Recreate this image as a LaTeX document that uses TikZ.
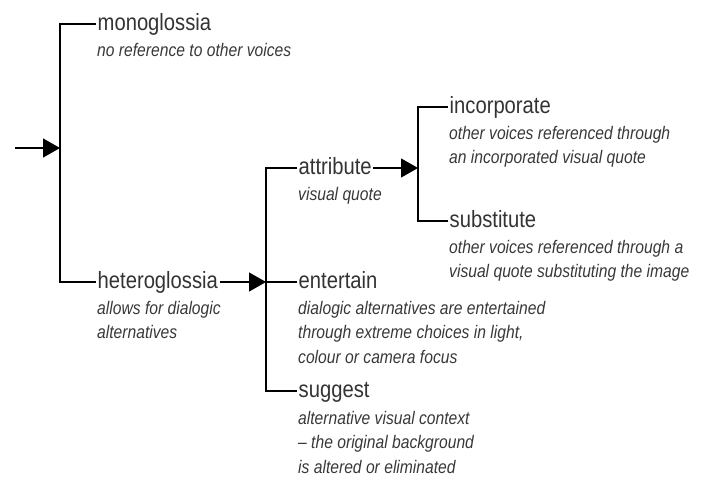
\documentclass[tikz,border=0pt]{standalone}
\usepackage{fontspec}
\setmainfont[FakeStretch=0.86]{Liberation Sans}
\usetikzlibrary{arrows.meta}
\newcommand\sublns[1]{\begin{tabular}[t]{@{}l@{}}#1\end{tabular}}
\begin{document}
\begin{tikzpicture}[x=1pt,y=-1pt,
  ttl/.style={anchor=west, inner xsep=1.5pt, inner ysep=0pt, text height=17pt, text depth=4pt,
    text=black!80, font=\fontsize{23.5}{24}\selectfont},
  sub/.style={anchor=base west, inner sep=0pt, text=black!78,
    font=\itshape\fontsize{18.2}{24.5}\selectfont},
  br/.style={line width=2.2pt},
  arr/.style={line width=1.3pt, -{Triangle[length=17pt,width=19pt]}}]
\useasboundingbox (0,0) rectangle (704,480);
% junctions
\coordinate (in) at (15,148);
\coordinate (j1) at (60,148);
\coordinate (j2) at (266,282);
\coordinate (j3) at (418,168);
% titles
\node[ttl] (mono) at (96,24) {monoglossia};
\node[ttl] (hetero) at (96,282) {heteroglossia};
\node[ttl] (attr) at (297,168) {attribute};
\node[ttl] (ent) at (297,282) {entertain};
\node[ttl] (sugg) at (297,391) {suggest};
\node[ttl] (inc) at (448,107) {incorporate};
\node[ttl] (subst) at (448,221) {substitute};
% subtitles
\node[sub] (monos) at (97,56) {\sublns{no reference to other voices}};
\node[sub] (heteros) at (97,314) {\sublns{allows for dialogic\\alternatives}};
\node[sub] (attrs) at (298,200) {\sublns{visual quote}};
\node[sub] (ents) at (298,314) {\sublns{dialogic alternatives are entertained\\through extreme choices in light,\\colour or camera focus}};
\node[sub] (suggs) at (298,424) {\sublns{alternative visual context\\-- the original background\\is altered or eliminated}};
\node[sub] (incs) at (449,139) {\sublns{other voices referenced through\\an incorporated visual quote}};
\node[sub] (substs) at (449,253) {\sublns{other voices referenced through a\\visual quote substituting the image}};
% connectors
\draw[arr] (in) -- (j1);
\draw[br] (mono.west) -| (j1) |- (hetero.west);
\draw[arr] (hetero.east) -- (j2);
\draw[br] (attr.west) -| (j2) |- (sugg.west);
\draw[br] (j2) -- (ent.west);
\draw[arr] (attr.east) -- (j3);
\draw[br] (inc.west) -| (j3) |- (subst.west);
\end{tikzpicture}
\end{document}
